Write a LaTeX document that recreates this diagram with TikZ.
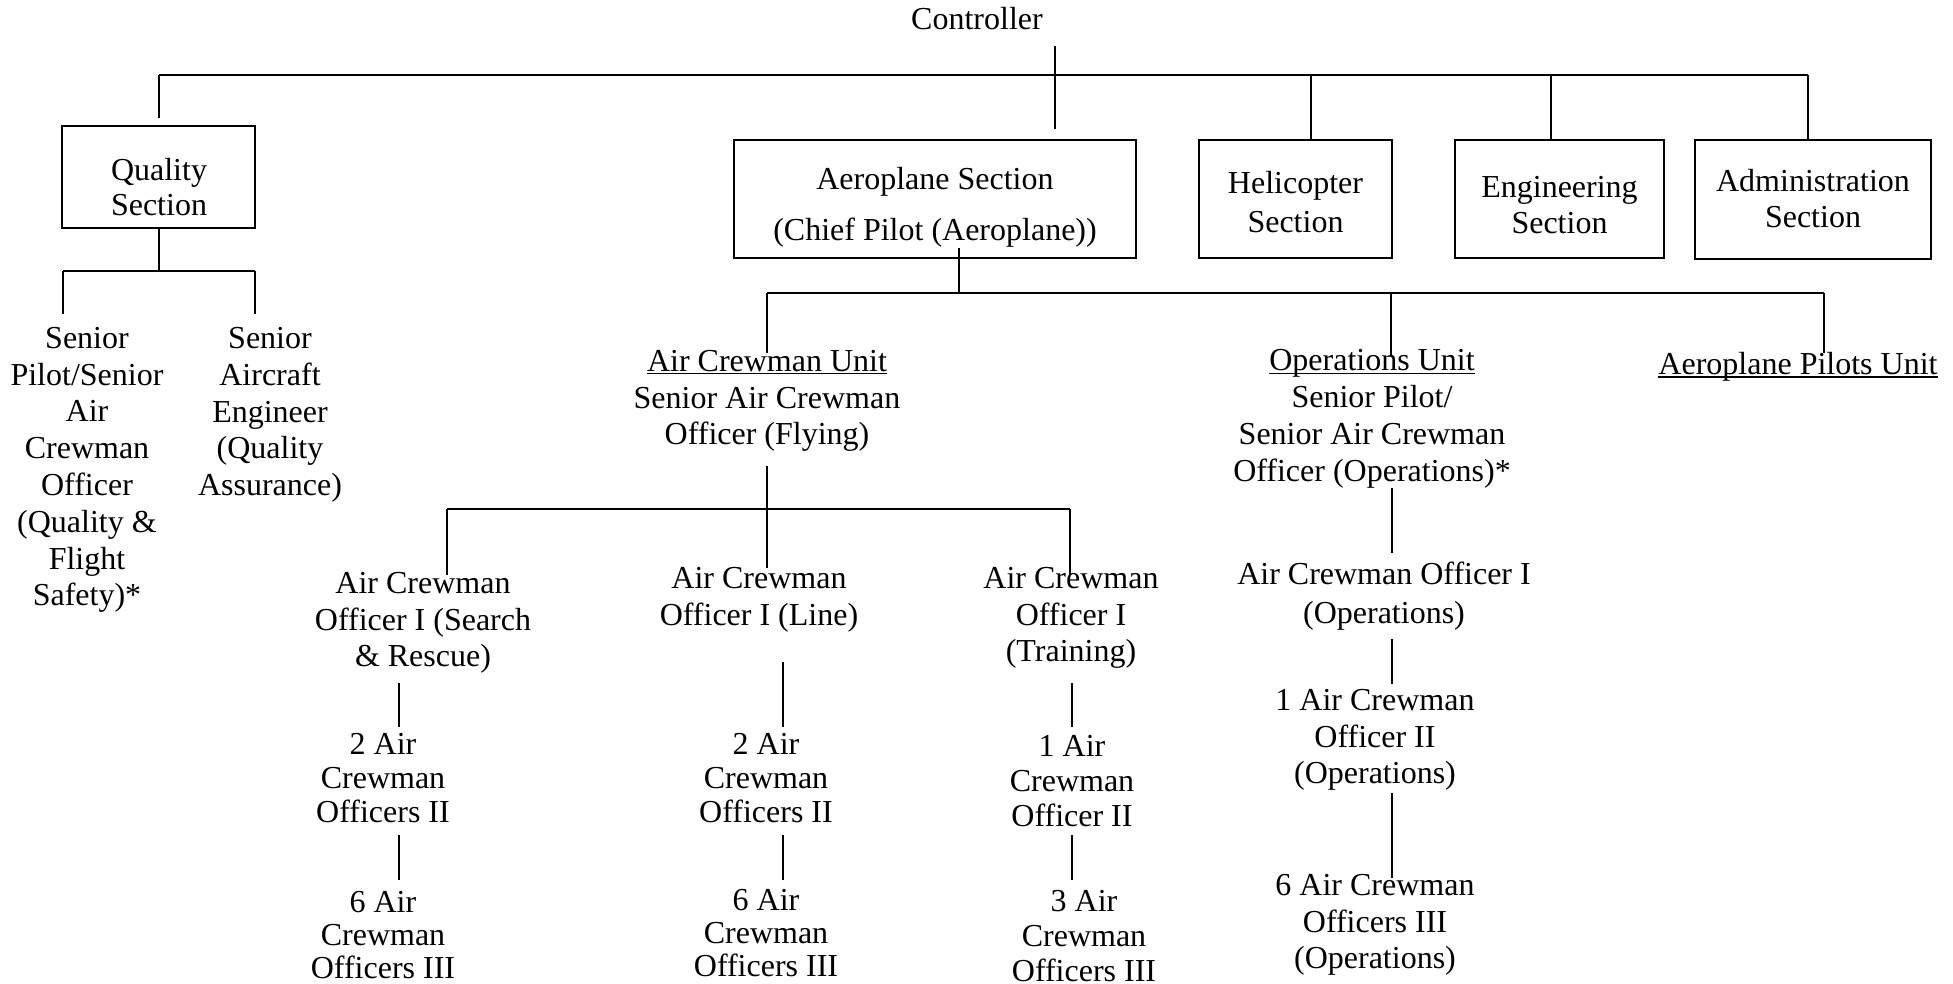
\documentclass[tikz,border=0pt]{standalone}
\usepackage{fontspec}
\setmainfont{Liberation Serif}
\newcommand{\undl}[1]{\setbox0\hbox{#1}\rlap{\rule[-1.1pt]{\wd0}{0.5pt}}\box0}
\begin{document}
\begin{tikzpicture}[x=0.375pt,y=-0.375pt,
  txt/.style={align=center,inner sep=0pt,font=\fontsize{12}{13.8}\selectfont},
  secbox/.style={draw,line width=0.75pt,inner sep=0pt},
  conn/.style={line width=0.55pt}]
\useasboundingbox (0,0) rectangle (1953,984);

% ---- top level
\node[txt] (ctrl) at (977,19) {Controller};

\node[secbox,minimum width=72.4pt,minimum height=38.25pt] (quality) at (158.5,177) {};
\node[txt] (qualityT) at (159,187) {Quality\\[-0.7pt]Section};

\node[secbox,minimum width=150.75pt,minimum height=44.25pt] (aero) at (935,199) {};
\node[txt] (aeroT) at (935,207) {Aeroplane Section\\[5.3pt](Chief Pilot (Aeroplane))};

\node[secbox,minimum width=72.4pt,minimum height=44.25pt] (heli) at (1295.5,199) {};
\node[txt] (heliT) at (1295.5,202) {Helicopter\\[0.8pt]Section};

\node[secbox,minimum width=78.4pt,minimum height=44.25pt] (eng) at (1559.5,199) {};
\node[txt] (engT) at (1559.5,205) {Engineering\\Section};

\node[secbox,minimum width=88.5pt,minimum height=44.6pt] (admin) at (1813,199.5) {};
\node[txt] (adminT) at (1813,199) {Administration\\[-0.3pt]Section};

% ---- quality section staff
\node[txt] (sp) at (87,470) {Senior\\Pilot/Senior\\Air\\Crewman\\Officer\\(Quality \&\\Flight\\Safety)*};
\node[txt] (sae) at (270,415) {Senior\\Aircraft\\Engineer\\(Quality\\Assurance)};

% ---- aeroplane section units
\node[txt] (acu) at (767,401) {\undl{Air Crewman Unit}\\Senior Air Crewman\\Officer (Flying)};
\node[txt] (ops) at (1372,419) {\undl{Operations Unit}\\Senior Pilot/\\Senior Air Crewman\\Officer (Operations)*};
\node[txt] (apu) at (1798,367) {\undl{Aeroplane Pilots Unit}};

% ---- air crewman officers I
\node[txt] (acoS) at (423,623) {Air Crewman\\Officer I (Search\\\& Rescue)};
\node[txt] (acoL) at (759,600) {Air Crewman\\Officer I (Line)};
\node[txt] (acoT) at (1071,618) {Air Crewman\\Officer I\\(Training)};
\node[txt] (acoO) at (1384,596) {Air Crewman Officer I\\[0.8pt](Operations)};

% ---- officers II / III
\node[txt] (s2) at (383,778) {2 Air\\[-1pt]Crewman\\[-1pt]Officers II};
\node[txt] (s6) at (383,935) {6 Air\\[-1.3pt]Crewman\\[-1.3pt]Officers III};
\node[txt] (l2) at (766,778) {2 Air\\[-1pt]Crewman\\[-1pt]Officers II};
\node[txt] (l6) at (766,933) {6 Air\\[-1.3pt]Crewman\\[-1.3pt]Officers III};
\node[txt] (t1) at (1072,781) {1 Air\\[-0.8pt]Crewman\\[-0.8pt]Officer II};
\node[txt] (t3) at (1084,936) {3 Air\\[-0.8pt]Crewman\\[-0.8pt]Officers III};
\node[txt] (o1) at (1375,740) {1 Air Crewman\\Officer II\\(Operations)};
\node[txt] (o6) at (1375,925) {6 Air Crewman\\Officers III\\(Operations)};

% ---- coordinates for connector ends
\coordinate (cTop) at (1055,46);  \coordinate (cBot) at (1055,129);
\coordinate (busL) at (159,75);   \coordinate (busR) at (1808,75);
\coordinate (hDrop) at (1311,75); \coordinate (eDrop) at (1551,75);

\coordinate (qBus) at (159,271);
\coordinate (qbL) at (63,271);    \coordinate (qbR) at (255,271);
\coordinate (qbLe) at (63,314);   \coordinate (qbRe) at (255,314);

\coordinate (aTop) at (959,248);  \coordinate (aBus) at (959,293);
\coordinate (uBL) at (767,293);   \coordinate (uBR) at (1824,293);
\coordinate (uOps) at (1391,293);
\coordinate (uBLe) at (767,353);  \coordinate (uOpsE) at (1391,356);
\coordinate (uBRe) at (1824,353);

\coordinate (acuBot) at (767,466); \coordinate (acuEnd) at (767,568);
\coordinate (fBL) at (447,509);    \coordinate (fBR) at (1070,509);
\coordinate (fBLe) at (447,575);   \coordinate (fBRe) at (1070,575);

\coordinate (sA) at (399,683); \coordinate (sB) at (399,727);
\coordinate (sC) at (399,835); \coordinate (sD) at (399,880);
\coordinate (lA) at (783,662); \coordinate (lB) at (783,727);
\coordinate (lC) at (783,835); \coordinate (lD) at (783,880);
\coordinate (tA) at (1072,683); \coordinate (tB) at (1072,727);
\coordinate (tC) at (1072,835); \coordinate (tD) at (1072,880);
\coordinate (oA) at (1392,488); \coordinate (oB) at (1392,553);
\coordinate (oC) at (1392,639); \coordinate (oD) at (1392,684);
\coordinate (oE) at (1392,793); \coordinate (oF) at (1392,878);

% ---- connectors
\draw[conn] (cTop) -- (cBot);
\draw[conn] (busL) -- (busR);
\draw[conn,shorten >=2.6pt] (busL) -- (quality.north -| busL);
\draw[conn] (hDrop) -- (hDrop |- heli.north);
\draw[conn] (eDrop) -- (eDrop |- eng.north);
\draw[conn] (busR) -- (busR |- admin.north);

\draw[conn] (quality.south -| qBus) -- (qBus);
\draw[conn] (qbL) -- (qbR);
\draw[conn] (qbL) -- (qbLe);
\draw[conn] (qbR) -- (qbRe);

\draw[conn] (aTop) -- (aBus);
\draw[conn] (uBL) -- (uBR);
\draw[conn] (uBL) -- (uBLe);
\draw[conn] (uOps) -- (uOpsE);
\draw[conn] (uBR) -- (uBRe);

\draw[conn] (acuBot) -- (acuEnd);
\draw[conn] (fBL) -- (fBR);
\draw[conn] (fBL) -- (fBLe);
\draw[conn] (fBR) -- (fBRe);

\draw[conn] (sA) -- (sB); \draw[conn] (sC) -- (sD);
\draw[conn] (lA) -- (lB); \draw[conn] (lC) -- (lD);
\draw[conn] (tA) -- (tB); \draw[conn] (tC) -- (tD);
\draw[conn] (oA) -- (oB); \draw[conn] (oC) -- (oD); \draw[conn] (oE) -- (oF);
\end{tikzpicture}
\end{document}
